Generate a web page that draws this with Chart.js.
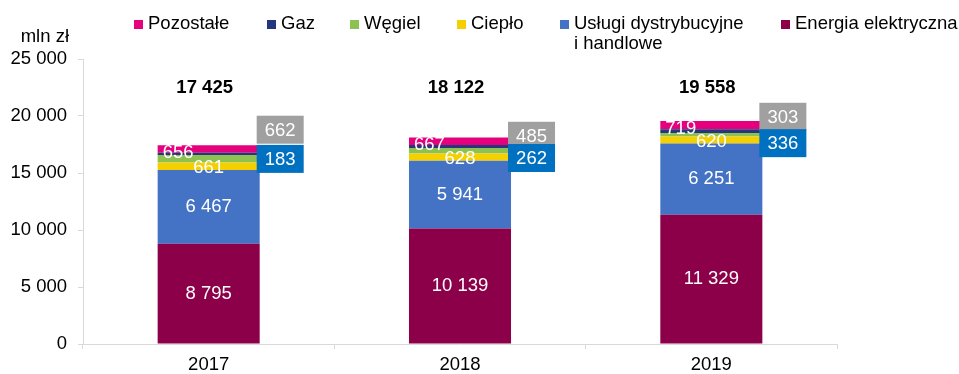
<!DOCTYPE html>
<html lang="pl">
<head>
<meta charset="utf-8">
<script src="https://cdn.jsdelivr.net/npm/chart.js@4.4.1/dist/chart.umd.min.js"></script>
<style>
  html, body { margin: 0; padding: 0; background: #fff; }
  #wrap { width: 959px; height: 374px; position: relative; }
</style>
</head>
<body>
<div id="wrap"><canvas id="revenueChart" width="959" height="374"></canvas></div>
<script>
// Values in mln zł, stacked from the bottom up
const years = ["2017", "2018", "2019"];
const energia = [8795, 10139, 11329];
const uslugi = [6467, 5941, 6251];
const cieplo = [661, 628, 620];
const wegiel = [662, 485, 303];
const gaz = [183, 262, 336];
const pozostale = [656, 667, 719];
const totals = [17425, 18122, 19558];
const yTicks = [0, 5000, 10000, 15000, 20000, 25000];

const FONT = "Arial, 'Liberation Sans', sans-serif";
const fmt = (n) => String(n).replace(/\B(?=(\d{3})+(?!\d))/g, " ");

// how each series shows its value label
const datasets = [
  { label: "Energia elektryczna", data: energia, backgroundColor: "#8B0049", labelMode: "center" },
  { label: ["Usługi dystrybucyjne", "i handlowe"], data: uslugi, backgroundColor: "#4472C4", labelMode: "center" },
  { label: "Ciepło", data: cieplo, backgroundColor: "#F5D000", labelMode: "center" },
  { label: "Węgiel", data: wegiel, backgroundColor: "#8DC151", labelMode: "box", boxColor: "#A0A0A0" },
  { label: "Gaz", data: gaz, backgroundColor: "#26367C", labelMode: "box", boxColor: "#0070C0" },
  { label: "Pozostałe", data: pozostale, backgroundColor: "#E5007D", labelMode: "left" },
];

// vertical shift (px) of the callout boxes from their segment centre
const boxShift = { "Węgiel": [-29, -15, -18], "Gaz": [5, 11.5, 12] };
// legend order and left edge of each marker
const legendX = [134, 267, 350, 457, 560, 781];
const totalsLevel = 22500;

const labelsPlugin = {
  id: "segmentLabels",
  afterDatasetsDraw(chart) {
    const ctx = chart.ctx;
    ctx.save();
    ctx.font = "18.5px " + FONT;
    ctx.textBaseline = "middle";
    // grey boxes come before blue ones so blue sits on top
    chart.data.datasets.forEach((ds, di) => {
      const meta = chart.getDatasetMeta(di);
      meta.data.forEach((bar, i) => {
        const v = ds.data[i];
        const mid = (bar.y + bar.base) / 2;
        const left = bar.x - bar.width / 2;
        const right = bar.x + bar.width / 2;
        if (ds.labelMode === "center") {
          ctx.fillStyle = "#fff";
          ctx.textAlign = "center";
          ctx.fillText(fmt(v), bar.x, mid + (v < 1000 ? 1.5 : 0));
        } else if (ds.labelMode === "left") {
          ctx.fillStyle = "#fff";
          ctx.textAlign = "left";
          ctx.fillText(fmt(v), left + 5, mid + 4);
        } else if (ds.labelMode === "box") {
          const cy = mid + boxShift[ds.label][i];
          const w = 47, h = 28;
          ctx.fillStyle = ds.boxColor;
          ctx.fillRect(right - 3, cy - h / 2, w, h);
          ctx.fillStyle = "#fff";
          ctx.textAlign = "center";
          ctx.fillText(fmt(v), right - 3 + w / 2, cy + 1);
        }
      });
    });

    // totals above the bars
    const yScale = chart.scales.y;
    const meta0 = chart.getDatasetMeta(0);
    ctx.font = "bold 18.5px " + FONT;
    ctx.fillStyle = "#000";
    ctx.textAlign = "center";
    totals.forEach((t, i) => {
      ctx.fillText(fmt(t), meta0.data[i].x - 4, yScale.getPixelForValue(totalsLevel));
    });
    ctx.restore();
  },
  afterDraw(chart) {
    const ctx = chart.ctx;
    ctx.save();
    ctx.font = "18.5px " + FONT;
    ctx.textBaseline = "middle";
    ctx.textAlign = "left";
    const items = chart.data.datasets.slice().reverse();
    items.forEach((ds, k) => {
      const x = legendX[k];
      ctx.fillStyle = ds.backgroundColor;
      ctx.fillRect(x, 20, 9, 9);
      ctx.fillStyle = "#000";
      const lines = Array.isArray(ds.label) ? ds.label : [ds.label];
      lines.forEach((line, j) => ctx.fillText(line, x + 14, 24 + j * 20));
    });
    // unit caption above the value axis
    ctx.textAlign = "right";
    ctx.fillText("mln zł", 69, 37);
    ctx.restore();
  },
};

const ctx = document.getElementById("revenueChart").getContext("2d");
const revenueChart = new Chart(ctx, {
  type: "bar",
  data: {
    labels: years,
    datasets: datasets.map((d) => ({
      ...d,
      borderWidth: 0,
      barPercentage: 0.406,
      categoryPercentage: 1,
    })),
  },
  options: {
    responsive: false,
    animation: false,
    layout: { padding: { top: 59, right: 122, bottom: 0, left: 0 } },
    plugins: {
      legend: { display: false },
      tooltip: { enabled: false },
    },
    scales: {
      x: {
        stacked: true,
        afterFit: (scale) => { scale.height = 30; },
        grid: {
          offset: true,
          drawOnChartArea: false,
          tickLength: 5,
          tickColor: "#d9d9d9",
        },
        border: { color: "#d9d9d9" },
        ticks: { color: "#000", padding: 5, font: { family: FONT, size: 18.5 } },
      },
      y: {
        stacked: true,
        min: 0,
        max: 25000,
        afterFit: (scale) => { scale.width = 83; },
        afterBuildTicks: (scale) => { scale.ticks = yTicks.map((v) => ({ value: v })); },
        grid: {
          drawOnChartArea: false,
          tickLength: 5,
          tickColor: "#d9d9d9",
        },
        border: { color: "#d9d9d9" },
        ticks: {
          color: "#000",
          padding: 11,
          font: { family: FONT, size: 18.5 },
          callback: (v) => fmt(v),
        },
      },
    },
  },
  plugins: [labelsPlugin],
});
</script>
</body>
</html>
